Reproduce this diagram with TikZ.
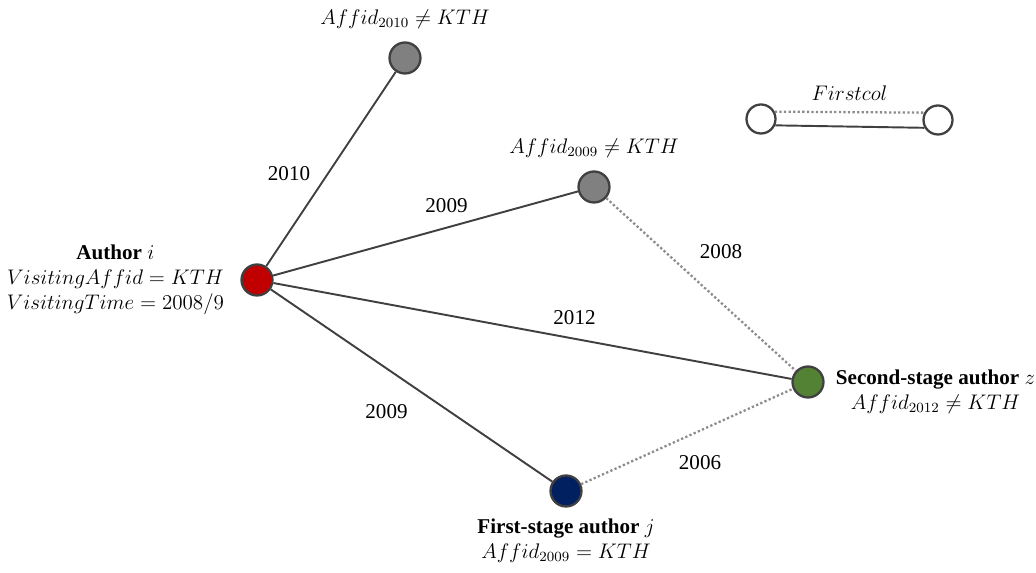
\documentclass[tikz,border=0pt]{standalone}
\usepackage{fontspec}
\setmainfont{Liberation Serif}
\usepackage{amsmath}
\usetikzlibrary{positioning}
\definecolor{rimgray}{HTML}{404040}
\definecolor{dotgray}{HTML}{8C8C8C}
\definecolor{authorred}{HTML}{C00000}
\definecolor{affgray}{HTML}{808080}
\definecolor{stagegreen}{HTML}{548235}
\definecolor{stagenavy}{HTML}{002060}
\tikzstyle{author} = [circle, draw=rimgray, line width=1.3pt, minimum size=0.62cm, inner sep=0pt]
\tikzstyle{coauthor} = [draw=rimgray, line width=1.1pt]
\tikzstyle{link} = [draw=dotgray, line width=1.3pt, dash pattern=on 1.3pt off 1.3pt]
\tikzstyle{info} = [inner sep=0pt, align=center, font=\rmfamily\fontsize{12}{14.2}\selectfont]
\tikzstyle{year} = [inner sep=0pt, font=\rmfamily\fontsize{12}{14}\selectfont]

\begin{document}
\begin{tikzpicture}[x=0.02cm, y=-0.02cm]
		\useasboundingbox (0,0) rectangle (1036,573);
		\node (AuthorI) [author, fill=authorred] at (257,280) {};
		\node (Aff2010) [author, fill=affgray] at (405,58) {};
		\node (Aff2009) [author, fill=affgray] at (594,187) {};
		\node (AuthorZ) [author, fill=stagegreen] at (808,382) {};
		\node (AuthorJ) [author, fill=stagenavy] at (566,491) {};
		\node (LegendLeft) [author, fill=white, minimum size=0.58cm] at (761,119) {};
		\node (LegendRight) [author, fill=white, minimum size=0.58cm] at (938,120) {};
		
		\node (AuthorILabel) [info, left = 0.32cm of AuthorI] {\textbf{Author} $i$\\ $VisitingAffid=KTH$\\ $VisitingTime=2008/9$};
		\node (Aff2010Label) [info, above = 0.25cm of Aff2010] {$Affid_{2010}\neq KTH$};
		\node (Aff2009Label) [info, above = 0.25cm of Aff2009] {$Affid_{2009}\neq KTH$};
		\node (AuthorZLabel) [info, right = 0.22cm of AuthorZ, yshift=-0.2cm] {\textbf{Second-stage author} $z$\\ $Affid_{2012}\neq KTH$};
		\node (AuthorJLabel) [info, below = 0.22cm of AuthorJ] {\textbf{First-stage author} $j$\\ $Affid_{2009}=KTH$};
		
		\draw [coauthor] (AuthorI) -- node[year, shift={(-42,5)}]{2010} (Aff2010);
		\draw [coauthor] (AuthorI) -- node[year, shift={(21,-28)}]{2009} (Aff2009);
		\draw [coauthor] (AuthorI) -- node[year, shift={(42,-13)}]{2012} (AuthorZ);
		\draw [coauthor] (AuthorI) -- node[year, shift={(-25,26)}]{2009} (AuthorJ);
		\draw [link] (Aff2009) -- node[year, shift={(20,-33)}]{2008} (AuthorZ);
		\draw [link] (AuthorJ) -- node[year, shift={(13,26)}]{2006} (AuthorZ);
		
		\draw [link] (LegendLeft.28) -- node[info, above = 0.22cm]{$Firstcol$} (LegendRight.152);
		\draw [coauthor] (LegendLeft.-24) -- (LegendRight.-150);
\end{tikzpicture}
\end{document}
